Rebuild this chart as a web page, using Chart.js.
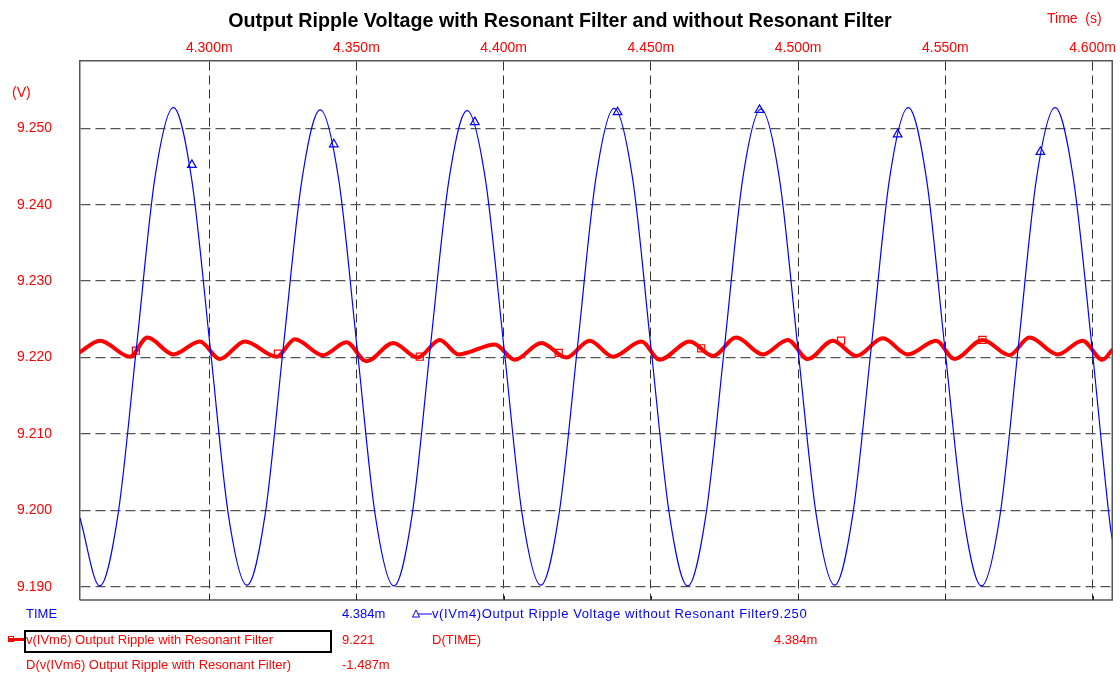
<!DOCTYPE html>
<html>
<head>
<meta charset="utf-8">
<title>Output Ripple Voltage</title>
<script src="https://cdn.jsdelivr.net/npm/chart.js@4.4.1/dist/chart.umd.min.js"></script>
<style>
    html, body { margin: 0; padding: 0; background: #fff; overflow: hidden; }
    #box { width: 1120px; height: 674px; }
</style>
</head>
<body>
<div id="box"><canvas id="ripple" width="1120" height="674"></canvas></div>
<script>
// time axis in ms, voltage in V
const xMin = 4.2561, xMax = 4.6067;
const yMin = 9.18826, yMax = 9.2588;
const xTicks = [4.30, 4.35, 4.40, 4.45, 4.50, 4.55, 4.60];
const yTicks = [9.19, 9.20, 9.21, 9.22, 9.23, 9.24, 9.25];

// v(IVm4) - without resonant filter
const blueTime = [
    4.2561,
    4.2628, 4.2690, 4.2753, 4.2815, 4.2878, 4.2940, 4.3003, 4.3065,
    4.3128, 4.3190, 4.3252, 4.3315, 4.3377, 4.3440, 4.3502, 4.3564,
    4.3627, 4.3689, 4.3751, 4.3814, 4.3876, 4.3938, 4.4001, 4.4063,
    4.4126, 4.4188, 4.4251, 4.4313, 4.4375, 4.4438, 4.4500, 4.4563,
    4.4625, 4.4687, 4.4750, 4.4812, 4.4874, 4.4937, 4.4999, 4.5062,
    4.5124, 4.5186, 4.5249, 4.5311, 4.5374, 4.5436, 4.5498, 4.5561,
    4.5623, 4.5686, 4.5748, 4.5810, 4.5873, 4.5935, 4.5998, 4.6060,
    4.6067
];
const blueVolt = [
    9.1990,
    9.1901, 9.1994, 9.2214, 9.2434, 9.2527, 9.2434, 9.2214, 9.1994,
    9.1902, 9.1995, 9.2215, 9.2433, 9.2524, 9.2432, 9.2213, 9.1993,
    9.1901, 9.1994, 9.2214, 9.2432, 9.2523, 9.2433, 9.2213, 9.1994,
    9.1902, 9.1995, 9.2215, 9.2434, 9.2526, 9.2434, 9.2214, 9.1994,
    9.1901, 9.1994, 9.2214, 9.2434, 9.2525, 9.2433, 9.2213, 9.1993,
    9.1902, 9.1995, 9.2215, 9.2435, 9.2527, 9.2434, 9.2214, 9.1994,
    9.1901, 9.1994, 9.2214, 9.2435, 9.2527, 9.2434, 9.2214, 9.1980,
    9.1962
];
const blueMarkTime = [4.2941, 4.3423, 4.3902, 4.4387, 4.4869, 4.5338, 4.5823];
const blueMarkVolt = [9.2452, 9.2479, 9.2508, 9.2521, 9.2524, 9.2492, 9.2469];

// v(IVm6) - with resonant filter
const redTime = [
    4.2561, 4.2629, 4.2731, 4.2790, 4.2878, 4.2968, 4.3036, 4.3121, 4.3229, 4.3291,
    4.3386, 4.3466, 4.3534, 4.3625, 4.3708, 4.3783, 4.3847, 4.3970, 4.4038, 4.4128,
    4.4213, 4.4292, 4.4371, 4.4468, 4.4530, 4.4632, 4.4711, 4.4790, 4.4880, 4.4965,
    4.5033, 4.5118, 4.5198, 4.5288, 4.5372, 4.5469, 4.5531, 4.5627, 4.5718, 4.5786,
    4.5882, 4.5966, 4.6034, 4.6067
];
const redVolt = [
    9.2207, 9.2222, 9.2201, 9.2226, 9.2204, 9.2221, 9.2198, 9.2221, 9.2201, 9.2224,
    9.2203, 9.2220, 9.2195, 9.2219, 9.2200, 9.2223, 9.2204, 9.2217, 9.2197, 9.2219,
    9.2200, 9.2222, 9.2201, 9.2221, 9.2197, 9.2221, 9.2202, 9.2226, 9.2204, 9.2223,
    9.2198, 9.2222, 9.2202, 9.2225, 9.2204, 9.2222, 9.2198, 9.2223, 9.2203, 9.2226,
    9.2204, 9.2222, 9.2197, 9.2210
];
const redMarkTime = [4.2751, 4.3233, 4.3715, 4.4187, 4.4671, 4.5146, 4.5626];
const redMarkVolt = [9.2209, 9.2205, 9.2201, 9.2206, 9.2212, 9.2222, 9.2223];

// cursor readout
const cursorTime = "4.384m";
const cursorBlue = "9.250";
const cursorRed = "9.221";
const cursorDelta = "-1.487m";

const BLUE = "#0000ff";
const RED = "#ff0000";
const FONT = "'Liberation Sans', Arial, sans-serif";

function pairs(xs, ys) {
    return xs.map((x, i) => ({ x: x, y: ys[i] }));
}

// frame, bottom ticks, title and cursor readout
const decorations = {
    id: "decorations",
    afterDraw(chart) {
        const ctx = chart.ctx;
        const area = chart.chartArea;
        const xs = chart.scales.x;

        ctx.save();
        ctx.strokeStyle = "#555";
        ctx.lineWidth = 1.5;
        ctx.beginPath();
        ctx.moveTo(area.right, area.top);
        ctx.lineTo(area.right, area.bottom);
        ctx.lineTo(area.left, area.bottom);
        ctx.stroke();

        ctx.strokeStyle = "#222";
        ctx.lineWidth = 1;
        xTicks.forEach(t => {
            const px = Math.round(xs.getPixelForValue(t)) + 0.5;
            ctx.beginPath();
            ctx.moveTo(px, area.bottom);
            ctx.lineTo(px, area.bottom - 4);
            ctx.stroke();
        });

        ctx.fillStyle = "#000";
        ctx.font = "bold 19.7px " + FONT;
        ctx.textAlign = "center";
        ctx.textBaseline = "middle";
        ctx.fillText("Output Ripple Voltage with Resonant Filter and without Resonant Filter", 560, 22);

        ctx.fillStyle = RED;
        ctx.font = "14px " + FONT;
        ctx.textAlign = "left";
        ctx.fillText("Time  (s)", 1047, 19);
        ctx.fillText("(V)", 12, 93);

        // readout rows
        ctx.font = "13px " + FONT;
        ctx.fillStyle = BLUE;
        ctx.fillText("TIME", 26, 614);
        ctx.fillText(cursorTime, 342, 614);
        ctx.letterSpacing = "0.6px";
        ctx.fillText("v(IVm4)Output Ripple Voltage without Resonant Filter" + cursorBlue, 432, 614);
        ctx.letterSpacing = "0px";

        ctx.strokeStyle = BLUE;
        ctx.lineWidth = 1;
        ctx.beginPath();
        ctx.moveTo(418, 614);
        ctx.lineTo(432, 614);
        ctx.moveTo(416, 610);
        ctx.lineTo(419.5, 617);
        ctx.lineTo(412.5, 617);
        ctx.closePath();
        ctx.stroke();

        ctx.fillStyle = RED;
        ctx.fillText("v(IVm6) Output Ripple with Resonant Filter", 26, 640);
        ctx.fillText(cursorRed, 342, 640);
        ctx.fillText("D(TIME)", 432, 640);
        ctx.fillText(cursorTime, 774, 640);
        ctx.fillText("D(v(IVm6) Output Ripple with Resonant Filter)", 26, 665);
        ctx.fillText(cursorDelta, 342, 665);

        ctx.strokeStyle = RED;
        ctx.lineWidth = 3;
        ctx.beginPath();
        ctx.moveTo(8, 639.5);
        ctx.lineTo(26, 639.5);
        ctx.stroke();
        ctx.lineWidth = 1;
        ctx.strokeRect(8.5, 636.5, 5, 5);

        ctx.strokeStyle = "#000";
        ctx.lineWidth = 2;
        ctx.strokeRect(25, 631, 306, 21);
        ctx.restore();
    }
};

const ctx = document.getElementById("ripple").getContext("2d");

new Chart(ctx, {
    type: "line",
    data: {
        datasets: [
            {
                label: "v(IVm4)Output Ripple Voltage without Resonant Filter",
                data: pairs(blueTime, blueVolt),
                borderColor: BLUE,
                borderWidth: 1.2,
                pointRadius: 0,
                cubicInterpolationMode: "monotone"
            },
            {
                label: "v(IVm4) markers",
                data: pairs(blueMarkTime, blueMarkVolt),
                showLine: false,
                pointStyle: "triangle",
                pointRadius: 5,
                borderColor: BLUE,
                borderWidth: 1.2,
                backgroundColor: "rgba(0,0,0,0)"
            },
            {
                label: "v(IVm6) Output Ripple with Resonant Filter",
                data: pairs(redTime, redVolt),
                borderColor: RED,
                borderWidth: 4,
                borderJoinStyle: "round",
                borderCapStyle: "round",
                pointRadius: 0,
                cubicInterpolationMode: "monotone"
            },
            {
                label: "v(IVm6) markers",
                data: pairs(redMarkTime, redMarkVolt),
                showLine: false,
                pointStyle: "rect",
                pointRadius: 5,
                borderColor: RED,
                borderWidth: 1.2,
                backgroundColor: "rgba(0,0,0,0)"
            }
        ]
    },
    options: {
        responsive: false,
        animation: false,
        layout: { padding: { top: 0, left: 0, right: 7, bottom: 74 } },
        plugins: {
            legend: { display: false },
            title: { display: false },
            tooltip: { enabled: false }
        },
        scales: {
            x: {
                type: "linear",
                position: "top",
                min: xMin,
                max: xMax,
                afterFit(scale) { scale.height = 61; },
                ticks: {
                    stepSize: 0.05,
                    includeBounds: false,
                    autoSkip: false,
                    maxRotation: 0,
                    padding: 4,
                    color: RED,
                    font: { family: FONT, size: 14 },
                    callback: v => v.toFixed(3) + "m"
                },
                grid: { color: "#333", lineWidth: 1, drawTicks: false },
                border: { display: true, color: "#555", width: 1.5, dash: [9, 5] }
            },
            y: {
                type: "linear",
                min: yMin,
                max: yMax,
                afterFit(scale) { scale.width = 80; },
                ticks: {
                    stepSize: 0.01,
                    includeBounds: false,
                    padding: 28,
                    color: RED,
                    font: { family: FONT, size: 14 },
                    callback: v => v.toFixed(3)
                },
                grid: { color: "#555", lineWidth: 1.3, drawTicks: false },
                border: { display: true, color: "#555", width: 1.5, dash: [10, 5] }
            }
        }
    },
    plugins: [decorations]
});
</script>
</body>
</html>
